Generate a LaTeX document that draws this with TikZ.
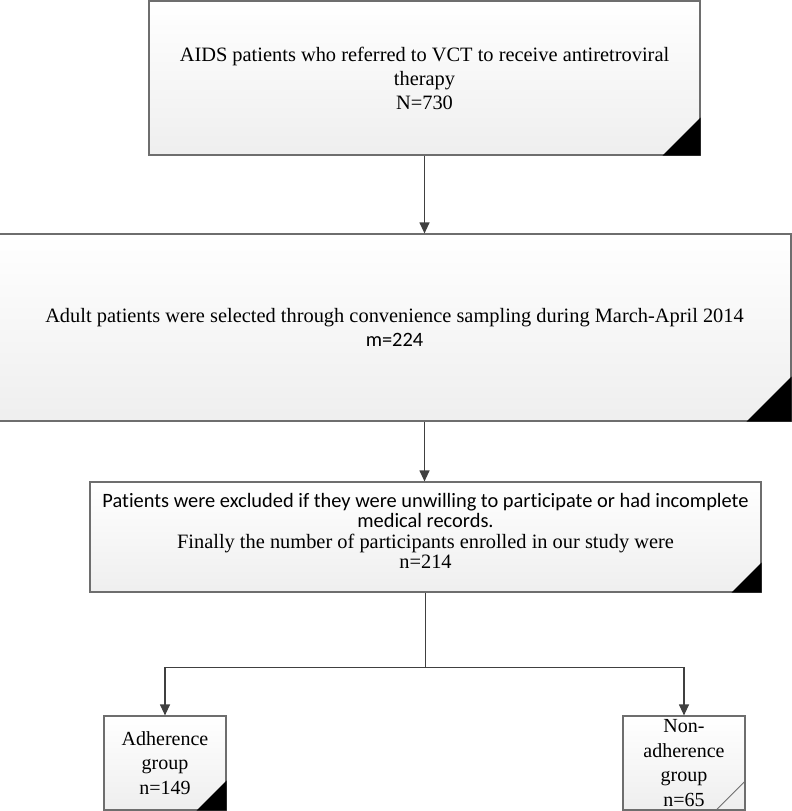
\documentclass[tikz,border=0pt]{standalone}
\usepackage{fontspec}
\setmainfont{Liberation Serif}
\newfontfamily\calfont[Ligatures=NoCommon]{Carlito}
\usetikzlibrary{arrows.meta}
\definecolor{edge}{HTML}{6E6E6E}
\definecolor{arrcol}{HTML}{404040}
\tikzset{
  box/.style={draw=edge, line width=1.2pt, rectangle, top color=white, bottom color=gray!13,
    align=center, inner sep=0pt, font=\fontsize{20.4}{24}\selectfont},
  arr/.style={draw=arrcol, line width=1.2pt, -{Triangle[length=11pt,width=10pt]}},
  ln/.style={draw=arrcol, line width=1.2pt},
  corner/.style={fill=black},
}
\begin{document}
\begin{tikzpicture}[x=1pt,y=-1pt]
\useasboundingbox (0,0) rectangle (792,811);
\node[box, minimum width=551pt, minimum height=154pt] (b1) at (424.5,78)
  {AIDS patients who referred to VCT to receive antiretroviral\\therapy\\N=730};
\node[box, minimum width=793pt, minimum height=187pt] (b2) at (394.5,327.5)
  {Adult patients were selected through convenience sampling during March-April 2014\\{\calfont m=224}};
\node[box, minimum width=671pt, minimum height=110pt] (b3) at (425.5,537) {};
\node[align=center, inner sep=0pt, font=\fontsize{20.4}{20.5}\selectfont] (b3text) at ([yshift=6]b3.center)
  {{\calfont Patients were excluded if they were unwilling to participate or had incomplete}\\{\calfont medical records.}\\Finally the number of participants enrolled in our study were\\n=214};
\node[box, minimum width=122pt, minimum height=94pt, font=\fontsize{20}{24.5}\selectfont] (b4) at (165,763)
  {Adherence\\group\\n=149};
\node[box, minimum width=122pt, minimum height=94pt, font=\fontsize{20}{24.5}\selectfont] (b5) at (684,763)
  {Non-\\adherence\\group\\n=65};
\fill[corner] (b1.south east) -- ++(-38,0) -- ++(38,-38) -- cycle;
\fill[corner] (b2.south east) -- ++(-45,0) -- ++(45,-45) -- cycle;
\fill[corner] (b3.south east) -- ++(-30,0) -- ++(30,-30) -- cycle;
\fill[corner] (b4.south east) -- ++(-30,0) -- ++(30,-30) -- cycle;
\draw[edge, line width=1pt] (b5.south east) ++(-30,0) -- ++(30,-30);
\draw[arr] (b1.south) -- (b1.south |- b2.north);
\draw[arr] (b1.south |- b2.south) -- (b1.south |- b3.north);
\draw[ln] (b3.south) -- ++(0,75) coordinate (split);
\draw[arr] (split) -| (b4.north);
\draw[arr] (split) -| (b5.north);
\end{tikzpicture}
\end{document}
